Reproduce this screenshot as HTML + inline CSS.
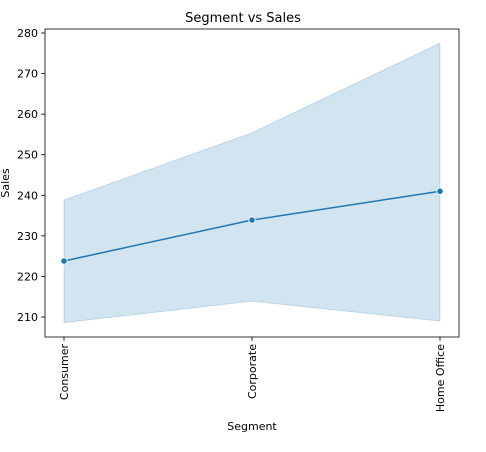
<!DOCTYPE html>
<html><head><meta charset="utf-8"><style>
body{margin:0;background:#fff;font-family:"Liberation Sans","DejaVu Sans",sans-serif;}
</style></head><body>
<svg id="chart" width="486" height="447" xmlns="http://www.w3.org/2000/svg" font-family="DejaVu Sans, Liberation Sans, sans-serif"></svg>
<script>
const categories=["Consumer","Corporate","Home Office"];
const sales=[223.8,233.9,241.0];
const upper=[238.8,255.4,277.5];
const lower=[208.6,213.9,209.0];
const yTicks=[210,220,230,240,250,260,270,280];
const L=45,R=459,T=29,B=337;
const x=i=>64+i*188;
const y=v=>33+(280-v)*(284/70);
const svg=document.getElementById('chart');
const NS='http://www.w3.org/2000/svg';
function mk(tag,attrs,text){const e=document.createElementNS(NS,tag);for(const k in attrs)e.setAttribute(k,attrs[k]);if(text!==undefined)e.textContent=text;svg.appendChild(e);return e;}
let t=mk('text',{x:243,y:22,'text-anchor':'middle','font-size':13},'Segment vs Sales');


let pts=upper.map((v,i)=>x(i)+','+y(v)).concat(lower.map((v,i)=>x(i)+','+y(v)).reverse());
let band=mk('polygon',{points:pts.join(' '),fill:'#1f77b4','fill-opacity':0.2,stroke:'#1f77b4','stroke-opacity':0.2});


let line=mk('polyline',{points:sales.map((v,i)=>x(i)+','+y(v)).join(' '),fill:'none',stroke:'#1f77b4','stroke-width':1.5});


sales.forEach((v,i)=>{let c=mk('circle',{cx:x(i),cy:y(v),r:3.2,fill:'#1f77b4',stroke:'#fff','stroke-width':0.8});

});
let fr=mk('rect',{x:L,y:T,width:R-L,height:B-T,fill:'none',stroke:'#000','stroke-width':0.8});


yTicks.forEach(v=>{mk('line',{x1:L-4,x2:L,y1:y(v),y2:y(v),stroke:'#000','stroke-width':0.8});
let l=mk('text',{x:L-7,y:y(v)+4,'text-anchor':'end','font-size':11},v);

});
categories.forEach((c,i)=>{mk('line',{x1:x(i),x2:x(i),y1:B,y2:B+4,stroke:'#000','stroke-width':0.8});
let l=mk('text',{x:0,y:0,'text-anchor':'end','font-size':11,transform:`translate(${x(i)+4},${B+7}) rotate(-90)`},c);

});
let xt=mk('text',{x:252,y:430,'text-anchor':'middle','font-size':11},'Segment');


let yt=mk('text',{x:0,y:0,'text-anchor':'middle','font-size':11,transform:'translate(9,183) rotate(-90)'},'Sales');


</script>
</body></html>
